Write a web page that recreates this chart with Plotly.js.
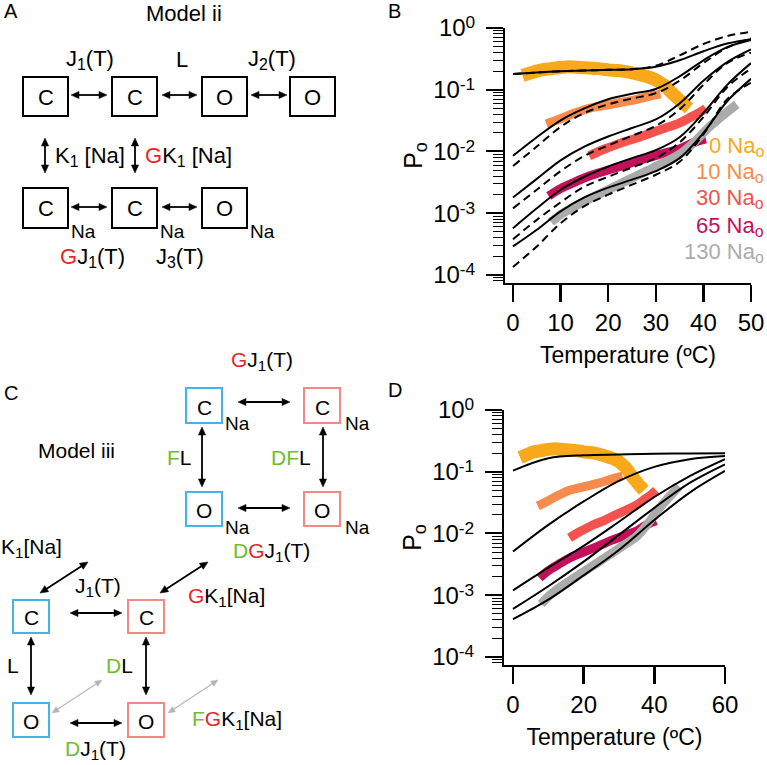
<!DOCTYPE html>
<html><head><meta charset="utf-8">
<script src="https://cdn.plot.ly/plotly-3.0.1.min.js"></script>
<style>body{margin:0;background:#fff}#chart{width:767px;height:765px}</style>
</head><body><div id="chart"></div>
<script>
// ---------- DATA ----------
const naLabels = ['0 Na', '10 Na', '30 Na', '65 Na', '130 Na'];
const naColors = ['#F7A81B', '#F78B4C', '#F4524E', '#C3105B', '#ABABAB'];

// measured Po vs temperature (same data in panels B and D)
const dataT0 = [2, 4, 6, 8, 10, 12, 14, 16, 18, 20, 22, 24, 26, 28, 30, 31, 32, 33, 34, 35, 36, 37];
const dataP0 = [0.17, 0.19, 0.21, 0.22, 0.23, 0.235, 0.23, 0.225, 0.22, 0.21, 0.205, 0.195, 0.18, 0.165, 0.145, 0.13, 0.115, 0.095, 0.08, 0.068, 0.058, 0.05];
const dataT10 = [7, 10, 13, 16, 20, 23, 26, 29, 31];
const dataP10 = [0.028, 0.034, 0.042, 0.05, 0.057, 0.063, 0.07, 0.08, 0.085];
const dataT30 = [16, 18, 20, 23, 26, 29, 32, 35, 37, 39, 40.5];
const dataP30 = [0.0085, 0.010, 0.0115, 0.014, 0.0165, 0.020, 0.024, 0.029, 0.035, 0.042, 0.05];
const dataT65 = [7.5, 10, 13, 16, 20, 24, 28, 32, 35, 38, 40.5];
const dataP65 = [0.0019, 0.0025, 0.0032, 0.004, 0.005, 0.0062, 0.0078, 0.0095, 0.011, 0.014, 0.016];
const dataT130 = [8, 10, 13, 16, 20, 24, 28, 32, 35, 38, 41, 44, 47];
const dataP130 = [0.00072, 0.00095, 0.0013, 0.0017, 0.0024, 0.0034, 0.0048, 0.0068, 0.009, 0.014, 0.024, 0.038, 0.058];

// Model ii fits (panel B)
const modelBT = [0, 5, 10, 15, 20, 25, 30, 35, 40, 45, 50];
const fitB0 = [0.18, 0.19, 0.20, 0.205, 0.21, 0.215, 0.235, 0.30, 0.42, 0.56, 0.66];
const fitB10 = [0.0085, 0.017, 0.032, 0.05, 0.070, 0.086, 0.103, 0.165, 0.30, 0.49, 0.64];
const fitB30 = [0.0018, 0.0036, 0.0072, 0.012, 0.0175, 0.024, 0.033, 0.06, 0.14, 0.28, 0.45];
const fitB65 = [0.00057, 0.0012, 0.0024, 0.0039, 0.0057, 0.0078, 0.0105, 0.017, 0.042, 0.12, 0.27];
const fitB130 = [0.00029, 0.00054, 0.00107, 0.0018, 0.0026, 0.0035, 0.0048, 0.0078, 0.02, 0.065, 0.15];
const dashB0 = [0.18, 0.19, 0.20, 0.205, 0.21, 0.215, 0.245, 0.36, 0.55, 0.74, 0.87];
const dashB10 = [0.0058, 0.012, 0.025, 0.042, 0.058, 0.072, 0.088, 0.14, 0.27, 0.48, 0.68];
const dashB30 = [0.0012, 0.0024, 0.0048, 0.0085, 0.0125, 0.018, 0.026, 0.048, 0.12, 0.27, 0.40];
const dashB65 = [0.00038, 0.00078, 0.0015, 0.0027, 0.0039, 0.0055, 0.0078, 0.014, 0.036, 0.11, 0.22];
const dashB130 = [0.000135, 0.00029, 0.00069, 0.0013, 0.002, 0.0029, 0.0042, 0.0068, 0.019, 0.07, 0.13];

// Model iii fits (panel D)
const modelDT = [0, 10, 20, 30, 40, 50, 60];
const fitD0 = [0.104, 0.165, 0.185, 0.19, 0.195, 0.198, 0.20];
const fitD10 = [0.0051, 0.0138, 0.033, 0.071, 0.12, 0.16, 0.18];
const fitD30 = [0.0012, 0.0028, 0.0063, 0.0155, 0.039, 0.085, 0.16];
const fitD65 = [0.0006, 0.0014, 0.0035, 0.0095, 0.026, 0.066, 0.132];
const fitD130 = [0.00041, 0.00085, 0.0021, 0.0054, 0.0165, 0.046, 0.103];

const yTickVals = [1e-4, 1e-3, 1e-2, 1e-1, 1];
const yTickExp = ['-4', '-3', '-2', '-1', '0'];
const xTickValsB = [0, 10, 20, 30, 40, 50];
const xTickValsD = [0, 20, 40, 60];

// ---------- BUILD ----------
const W = 767, H = 765;
const FONT = 'Liberation Sans, Arial, Helvetica, sans-serif';
const px = x => x / W;
const py = y => 1 - y / H;
const SUB = s => '<span style="font-size:72%;baseline-shift:-28%">' + s + '</span>';
const SUP = s => '<span style="font-size:72%;baseline-shift:48%">' + s + '</span>';
const yTickText = yTickExp.map(e => '10' + SUP(e));

const dataT = [dataT0, dataT10, dataT30, dataT65, dataT130];
const dataP = [dataP0, dataP10, dataP30, dataP65, dataP130];
const fitB = [fitB0, fitB10, fitB30, fitB65, fitB130];
const dashB = [dashB0, dashB10, dashB30, dashB65, dashB130];
const fitD = [fitD0, fitD10, fitD30, fitD65, fitD130];

const traces = [];
[['x', 'y'], ['x2', 'y2']].forEach(([xa, ya]) => {
  for (let i = 0; i < 5; i++) {
    traces.push({x: dataT[i], y: dataP[i], xaxis: xa, yaxis: ya, type: 'scatter', mode: 'lines',
      line: {color: naColors[i], width: i === 0 ? 13 : 9, shape: 'spline'}, name: naLabels[i] + ' data', showlegend: false});
  }
});
for (let i = 0; i < 5; i++) {
  traces.push({x: modelBT, y: dashB[i], xaxis: 'x', yaxis: 'y', type: 'scatter', mode: 'lines',
    line: {color: 'black', width: 2, dash: '8px,5px', shape: 'spline'}, name: naLabels[i] + ' model (dashed)', showlegend: false});
  traces.push({x: modelBT, y: fitB[i], xaxis: 'x', yaxis: 'y', type: 'scatter', mode: 'lines',
    line: {color: 'black', width: 2, shape: 'spline'}, name: naLabels[i] + ' model ii', showlegend: false});
  traces.push({x: modelDT, y: fitD[i], xaxis: 'x2', yaxis: 'y2', type: 'scatter', mode: 'lines',
    line: {color: 'black', width: 2, shape: 'spline'}, name: naLabels[i] + ' model iii', showlegend: false});
}

function xAxis(range, vals, domain, anchor) {
  return {domain: domain, range: range, tickvals: vals, ticks: 'outside', ticklen: 17, tickwidth: 2.5,
    tickcolor: 'black', showline: true, linewidth: 2, linecolor: 'black', showgrid: false, zeroline: false,
    tickfont: {family: FONT, size: 24, color: 'black'}, ticklabelstandoff: 0, anchor: anchor,
    title: {text: 'Temperature (ºC)', font: {family: FONT, size: 23, color: 'black'}}};
}
function yAxis(domain, anchor) {
  return {domain: domain, type: 'log', range: [-4.13, 0], tickvals: yTickVals, ticktext: yTickText,
    ticks: 'outside', ticklen: 17, tickwidth: 2, tickcolor: 'black', showline: true, linewidth: 2, linecolor: 'black',
    showgrid: false, zeroline: false, anchor: anchor, ticklabelstandoff: 6,
    minor: {ticks: 'outside', ticklen: 10, tickwidth: 1, tickcolor: 'black', dtick: 'D1', showgrid: false},
    tickfont: {family: FONT, size: 24, color: 'black'},
    title: {text: 'P' + SUB('o'), font: {family: FONT, size: 25, color: 'black'}}};
}

const shapes = [];
const ann = [];
function box(x0, y0, x1, y1, color) {
  shapes.push({type: 'rect', xref: 'paper', yref: 'paper', x0: px(x0), x1: px(x1), y0: py(y1), y1: py(y0),
    line: {color: color, width: 2}, fillcolor: 'rgba(0,0,0,0)'});
}
function txt(x, y, text, size, xanchor, color) {
  ann.push({xref: 'paper', yref: 'paper', x: px(x), y: py(y), text: text, showarrow: false,
    xanchor: xanchor || 'center', yanchor: 'middle', font: {family: FONT, size: size, color: color || 'black'}});
}
function head(tx, ty, ux, uy, color, hl, hw) {
  const bx = tx - ux * hl, by = ty - uy * hl;
  const p1x = bx - uy * hw, p1y = by + ux * hw, p2x = bx + uy * hw, p2y = by - ux * hw;
  shapes.push({type: 'path', xref: 'paper', yref: 'paper',
    path: `M ${px(tx)} ${py(ty)} L ${px(p1x)} ${py(p1y)} L ${px(p2x)} ${py(p2y)} Z`,
    fillcolor: color, line: {color: color, width: 0.5}});
}
function arrow(x1, y1, x2, y2, color, width) {
  color = color || 'black'; width = width || 1.8;
  const dx = x2 - x1, dy = y2 - y1, L = Math.hypot(dx, dy), ux = dx / L, uy = dy / L;
  const hl = width > 1.5 ? 8 : 7, hw = width > 1.5 ? 3.6 : 3;
  shapes.push({type: 'line', xref: 'paper', yref: 'paper',
    x0: px(x1 + ux * hl * 0.7), y0: py(y1 + uy * hl * 0.7), x1: px(x2 - ux * hl * 0.7), y1: py(y2 - uy * hl * 0.7),
    line: {color: color, width: width}});
  head(x2, y2, ux, uy, color, hl, hw);
  head(x1, y1, -ux, -uy, color, hl, hw);
}
const R = c => '<span style="color:#E8262A">' + c + '</span>';
const G = c => '<span style="color:#6DBE2E">' + c + '</span>';
const BLUE = '#45B3E6', PINK = '#EF8A86';
const J = n => 'J' + SUB(n) + '(T)';
const K1 = 'K' + SUB('1');

// Panel A
txt(2, 11, 'A', 20, 'left');
txt(184, 13, 'Model ii', 22);
[[23, 68, 'C'], [112, 157, 'C'], [202, 247, 'O'], [290, 335, 'O']].forEach(([a, b, t]) => { box(a, 77, b, 116, 'black'); txt((a + b) / 2, 98, t, 22); });
[[23, 68, 'C'], [112, 157, 'C'], [202, 247, 'O']].forEach(([a, b, t]) => { box(a, 188, b, 228, 'black'); txt((a + b) / 2, 209, t, 22); txt(b + 15, 231, 'Na', 19); });
arrow(71, 95, 107, 95); arrow(162, 95, 197, 95); arrow(251, 95, 287, 95);
arrow(71, 207, 107, 207); arrow(162, 207, 197, 207);
txt(90, 60, J('1'), 22); txt(182, 60, 'L', 22); txt(272, 60, J('2'), 22);
arrow(45, 138, 45, 173); arrow(135, 138, 135, 173);
txt(53, 157, K1 + ' [Na]', 22, 'left'); txt(143, 157, R('G') + K1 + ' [Na]', 22, 'left');
txt(92, 257, R('G') + J('1'), 22); txt(180, 257, J('3'), 22);

// Panel C
txt(2, 393, 'C', 20, 'left');
txt(76, 450, 'Model iii', 21);
box(186, 388, 222, 423, BLUE); txt(204, 407, 'C', 21); txt(237, 423, 'Na', 19);
box(304, 388, 340, 423, PINK); txt(322, 407, 'C', 21); txt(357, 423, 'Na', 19);
box(186, 492, 222, 526, BLUE); txt(204, 510, 'O', 21); txt(237, 527, 'Na', 19);
box(304, 492, 340, 526, PINK); txt(322, 510, 'O', 21); txt(357, 527, 'Na', 19);
arrow(238, 402, 290, 402); arrow(238, 508, 290, 508);
arrow(202, 427, 202, 487); arrow(323, 427, 323, 487);
txt(262, 361, R('G') + J('1'), 21);
txt(194, 457, G('F') + 'L', 21, 'right'); txt(313, 457, G('DF') + 'L', 21, 'right');
txt(231, 552, G('D') + R('G') + J('1'), 21, 'left');
txt(-1, 548, K1 + '[Na]', 21, 'left');
arrow(88, 562, 40, 593); arrow(208, 562, 160, 593);
txt(98, 587, J('1'), 21);
txt(186, 597, R('G') + K1 + '[Na]', 21, 'left');
box(13, 600, 49, 633, BLUE); txt(31, 617, 'C', 21);
box(128, 600, 164, 633, PINK); txt(146, 617, 'C', 21);
arrow(70, 613, 122, 613);
arrow(31, 637, 31, 695); arrow(146, 637, 146, 695);
txt(13, 665, 'L', 21); txt(135, 665, G('D') + 'L', 21, 'right');
box(13, 703, 49, 737, BLUE); txt(31, 721, 'O', 21);
box(128, 703, 164, 737, PINK); txt(146, 721, 'O', 21);
arrow(70, 723, 122, 723);
arrow(102, 680, 52, 713, '#B5B5B5', 1.1); arrow(218, 680, 168, 713, '#B5B5B5', 1.1);
txt(95, 750, G('D') + J('1'), 21);
txt(190, 720, G('F') + R('G') + K1 + '[Na]', 21, 'left');

// Panel labels B, D
txt(386, 11, 'B', 20, 'left');
txt(386, 390, 'D', 20, 'left');
// Legend text in B
const legY = [146, 173, 199, 226, 253];
for (let i = 0; i < 5; i++) txt(766, legY[i], naLabels[i] + SUB('o'), 22, 'right', naColors[i]);

const layout = {
  width: W, height: H, margin: {l: 0, r: 0, t: 0, b: 0}, paper_bgcolor: 'white', plot_bgcolor: 'white',
  showlegend: false, font: {family: FONT, color: 'black'},
  xaxis: xAxis([-1.68, 50], xTickValsB, [505 / W, 751 / W], 'y'),
  yaxis: yAxis([1 - 283 / H, 1 - 28 / H], 'x'),
  xaxis2: xAxis([-2.55, 60], xTickValsD, [504 / W, 725 / W], 'y2'),
  yaxis2: yAxis([1 - 665 / H, 1 - 410 / H], 'x2'),
  shapes: shapes, annotations: ann
};
Plotly.newPlot('chart', traces, layout, {displayModeBar: false, staticPlot: true});
</script></body></html>
